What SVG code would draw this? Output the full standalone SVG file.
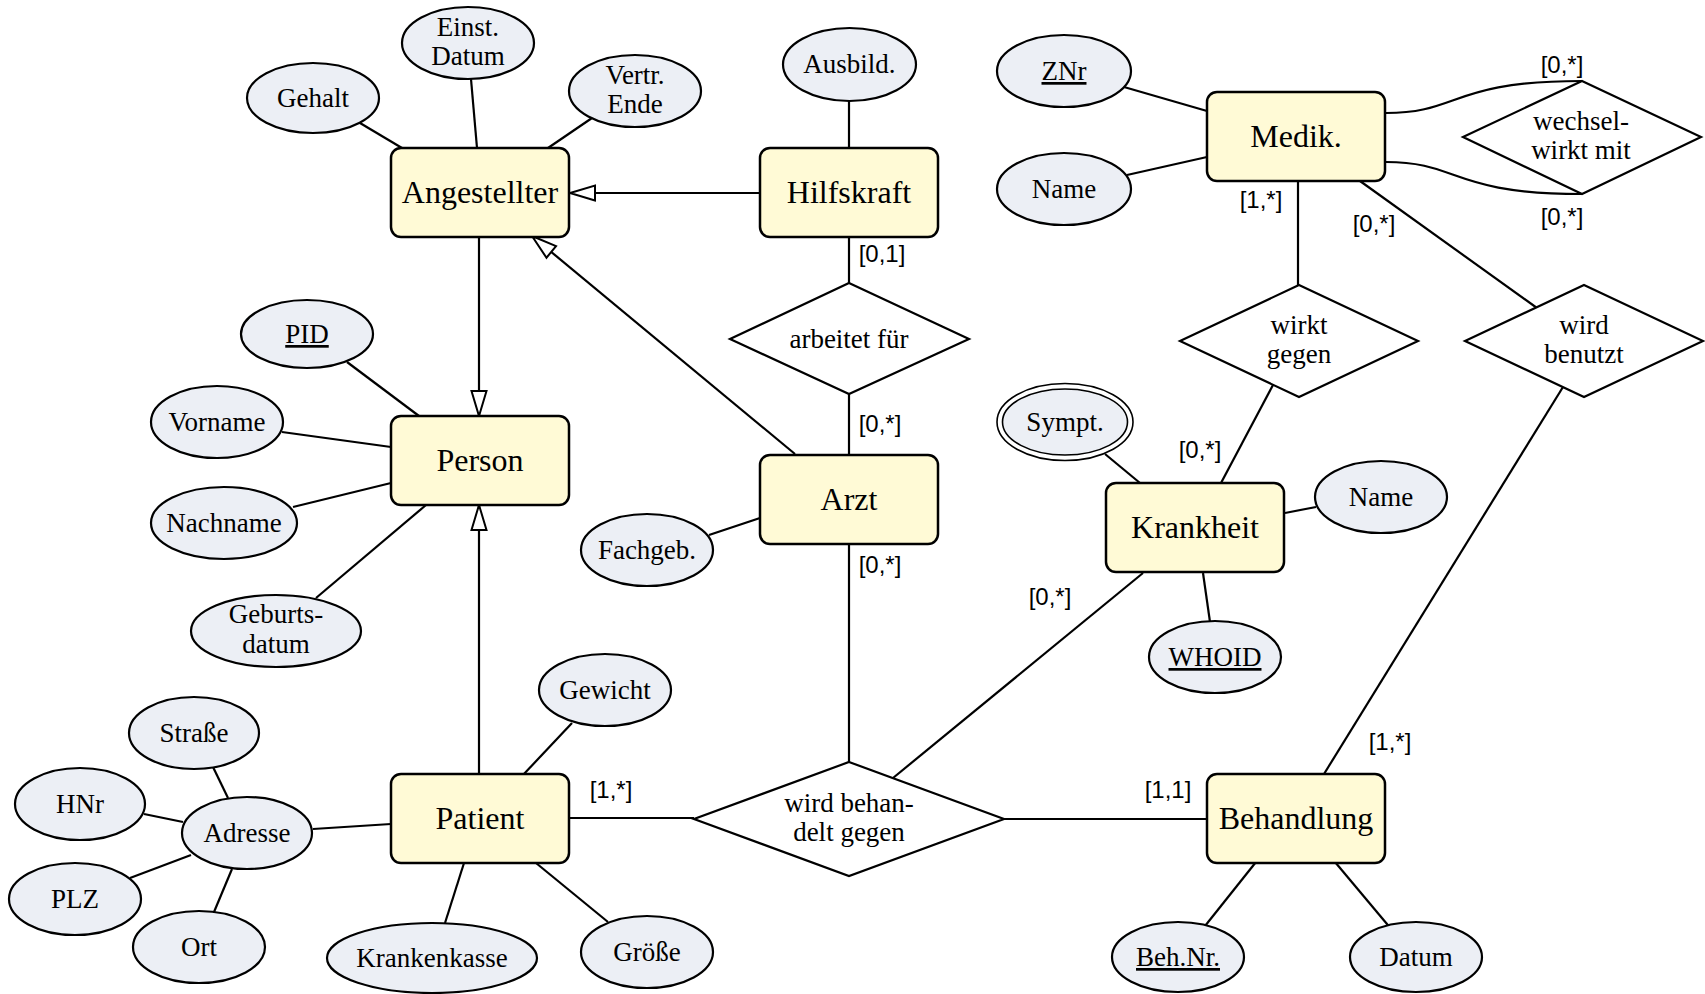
<svg xmlns="http://www.w3.org/2000/svg" width="1705" height="994" viewBox="0 0 1705 994">
<style>
.ent rect{fill:#fffad6;stroke:#000;stroke-width:2.5}
.ent text{font-family:"Liberation Serif",serif;font-size:32px;text-anchor:middle;fill:#000}
.att ellipse{fill:#eceff5;stroke:#000;stroke-width:2.2}
.att text{font-family:"Liberation Serif",serif;font-size:27px;text-anchor:middle;fill:#000}
.rel polygon{fill:#fff;stroke:#000;stroke-width:2.2}
.rel text{font-family:"Liberation Serif",serif;font-size:27px;text-anchor:middle;fill:#000}
#connectors line,#connectors path{stroke:#000;stroke-width:2.2;fill:none}
.card{font-family:"Liberation Sans",Arial,sans-serif;font-size:24px;text-anchor:middle;fill:#000}
.key{text-decoration:underline}
</style>
<defs>
<marker id="gen" markerUnits="userSpaceOnUse" viewBox="0 0 28 18" markerWidth="28" markerHeight="18" refX="27" refY="9" orient="auto">
<path d="M2,1.5 L27,9 L2,16.5 Z" fill="#fff" stroke="#000" stroke-width="2"/>
</marker>
</defs>
<rect width="1705" height="994" fill="#fff"/>
<g id="connectors">
<line x1="360" y1="123" x2="402" y2="148"/>
<line x1="471" y1="79" x2="477" y2="148"/>
<line x1="592" y1="118" x2="548" y2="148"/>
<line x1="849" y1="101" x2="849" y2="148"/>
<line x1="849" y1="237" x2="849" y2="283"/>
<line x1="849" y1="394" x2="849" y2="455"/>
<line x1="760" y1="193" x2="570" y2="193" marker-end="url(#gen)"/>
<line x1="479" y1="237" x2="479" y2="416" marker-end="url(#gen)"/>
<line x1="479" y1="774" x2="479" y2="505" marker-end="url(#gen)"/>
<line x1="795" y1="454" x2="532" y2="236" marker-end="url(#gen)"/>
<line x1="347" y1="362" x2="419" y2="416"/>
<line x1="282" y1="432" x2="391" y2="447"/>
<line x1="293" y1="507" x2="391" y2="483"/>
<line x1="316" y1="598" x2="426" y2="505"/>
<line x1="709" y1="535" x2="760" y2="518"/>
<line x1="849" y1="544" x2="849" y2="762"/>
<line x1="313" y1="829" x2="391" y2="824"/>
<line x1="523" y1="775" x2="572" y2="723"/>
<line x1="464" y1="863" x2="445" y2="923"/>
<line x1="536" y1="863" x2="608" y2="922"/>
<line x1="570" y1="818" x2="694" y2="818"/>
<line x1="213" y1="767" x2="228" y2="798"/>
<line x1="144" y1="814" x2="183" y2="822"/>
<line x1="130" y1="878" x2="191" y2="855"/>
<line x1="214" y1="912" x2="232" y2="869"/>
<line x1="1124" y1="87" x2="1207" y2="111"/>
<line x1="1127" y1="175" x2="1207" y2="157"/>
<path d="M1386,113 C1460,113 1450,81 1582,81"/>
<path d="M1386,162 C1460,162 1450,194 1582,194"/>
<line x1="1298" y1="181" x2="1298" y2="285"/>
<line x1="1360" y1="181" x2="1537" y2="308"/>
<line x1="1273" y1="385" x2="1221" y2="483"/>
<line x1="1105" y1="454" x2="1140" y2="483"/>
<line x1="1285" y1="513" x2="1316" y2="507"/>
<line x1="1203" y1="573" x2="1210" y2="622"/>
<line x1="1143" y1="573" x2="893" y2="778"/>
<line x1="1004" y1="819" x2="1207" y2="819"/>
<line x1="1563" y1="387" x2="1324" y2="774"/>
<line x1="1256" y1="862" x2="1205" y2="926"/>
<line x1="1335" y1="862" x2="1392" y2="930"/>
<text class="card" x="882" y="262">[0,1]</text>
<text class="card" x="880" y="432">[0,*]</text>
<text class="card" x="880" y="573">[0,*]</text>
<text class="card" x="611" y="798">[1,*]</text>
<text class="card" x="1168" y="798">[1,1]</text>
<text class="card" x="1050" y="605">[0,*]</text>
<text class="card" x="1200" y="458">[0,*]</text>
<text class="card" x="1390" y="750">[1,*]</text>
<text class="card" x="1261" y="208">[1,*]</text>
<text class="card" x="1374" y="232">[0,*]</text>
<text class="card" x="1562" y="73">[0,*]</text>
<text class="card" x="1562" y="225">[0,*]</text>
</g>
<g id="ent-angestellter" class="ent"><rect x="391" y="148" width="178" height="89" rx="10"/><text x="480" y="203">Angestellter</text></g>
<g id="ent-hilfskraft" class="ent"><rect x="760" y="148" width="178" height="89" rx="10"/><text x="849" y="203">Hilfskraft</text></g>
<g id="ent-person" class="ent"><rect x="391" y="416" width="178" height="89" rx="10"/><text x="480" y="471">Person</text></g>
<g id="ent-arzt" class="ent"><rect x="760" y="455" width="178" height="89" rx="10"/><text x="849" y="510">Arzt</text></g>
<g id="ent-patient" class="ent"><rect x="391" y="774" width="178" height="89" rx="10"/><text x="480" y="829">Patient</text></g>
<g id="ent-medik" class="ent"><rect x="1207" y="92" width="178" height="89" rx="10"/><text x="1296" y="147">Medik.</text></g>
<g id="ent-krankheit" class="ent"><rect x="1106" y="483" width="178" height="89" rx="10"/><text x="1195" y="538">Krankheit</text></g>
<g id="ent-behandlung" class="ent"><rect x="1207" y="774" width="178" height="89" rx="10"/><text x="1296" y="829">Behandlung</text></g>
<g id="rel-arbeitet" class="rel"><polygon points="849,283 969,339 849,394 730,339"/><text x="849" y="348">arbeitet für</text></g>
<g id="rel-wechselwirkt" class="rel"><polygon points="1582,81 1701,137 1582,194 1463,137"/><text x="1581" y="130">wechsel-</text><text x="1581" y="159">wirkt mit</text></g>
<g id="rel-wirktgegen" class="rel"><polygon points="1299,285 1418,341 1299,397 1180,341"/><text x="1299" y="334">wirkt</text><text x="1299" y="363">gegen</text></g>
<g id="rel-benutzt" class="rel"><polygon points="1584,285 1703,341 1584,397 1465,341"/><text x="1584" y="334">wird</text><text x="1584" y="363">benutzt</text></g>
<g id="rel-behandelt" class="rel"><polygon points="849,762 1004,819 849,876 694,819"/><text x="849" y="812">wird behan-</text><text x="849" y="841">delt gegen</text></g>
<g id="att-gehalt" class="att"><ellipse cx="313" cy="98" rx="66" ry="35"/><text x="313" y="107">Gehalt</text></g>
<g id="att-einst" class="att"><ellipse cx="468" cy="43" rx="66" ry="36"/><text x="468" y="36">Einst.</text><text x="468" y="65">Datum</text></g>
<g id="att-vertr" class="att"><ellipse cx="635" cy="91" rx="66" ry="36"/><text x="635" y="84">Vertr.</text><text x="635" y="113">Ende</text></g>
<g id="att-ausbild" class="att"><ellipse cx="849.5" cy="64.5" rx="66.5" ry="36.5"/><text x="849.5" y="73">Ausbild.</text></g>
<g id="att-znr" class="att"><ellipse cx="1064" cy="71" rx="67" ry="36"/><text class="key" x="1064" y="80">ZNr</text></g>
<g id="att-medikname" class="att"><ellipse cx="1064" cy="189" rx="67" ry="36"/><text x="1064" y="198">Name</text></g>
<g id="att-pid" class="att"><ellipse cx="307" cy="334" rx="66" ry="34"/><text class="key" x="307" y="343">PID</text></g>
<g id="att-vorname" class="att"><ellipse cx="217" cy="422" rx="66" ry="36"/><text x="217" y="431">Vorname</text></g>
<g id="att-nachname" class="att"><ellipse cx="224" cy="523" rx="73" ry="36"/><text x="224" y="532">Nachname</text></g>
<g id="att-geburt" class="att"><ellipse cx="276" cy="631" rx="85" ry="36"/><text x="276" y="623">Geburts-</text><text x="276" y="653">datum</text></g>
<g id="att-fachgeb" class="att"><ellipse cx="647" cy="550" rx="66" ry="36"/><text x="647" y="559">Fachgeb.</text></g>
<g id="att-sympt" class="att"><ellipse cx="1065" cy="422" rx="68" ry="38.5" style="fill:#fff;stroke-width:1.6"/><ellipse cx="1065" cy="422" rx="62.5" ry="33" style="stroke-width:1.6"/><text x="1065" y="431">Sympt.</text></g>
<g id="att-krankname" class="att"><ellipse cx="1381" cy="497" rx="66" ry="36"/><text x="1381" y="506">Name</text></g>
<g id="att-whoid" class="att"><ellipse cx="1215" cy="657" rx="66" ry="36"/><text class="key" x="1215" y="666">WHOID</text></g>
<g id="att-gewicht" class="att"><ellipse cx="605" cy="690" rx="66" ry="36"/><text x="605" y="699">Gewicht</text></g>
<g id="att-strasse" class="att"><ellipse cx="194" cy="733" rx="65" ry="36"/><text x="194" y="742">Straße</text></g>
<g id="att-hnr" class="att"><ellipse cx="80" cy="804" rx="65" ry="36"/><text x="80" y="813">HNr</text></g>
<g id="att-adresse" class="att"><ellipse cx="247" cy="833" rx="65" ry="36"/><text x="247" y="842">Adresse</text></g>
<g id="att-plz" class="att"><ellipse cx="75" cy="899" rx="66" ry="36"/><text x="75" y="908">PLZ</text></g>
<g id="att-ort" class="att"><ellipse cx="199" cy="947" rx="66" ry="36"/><text x="199" y="956">Ort</text></g>
<g id="att-kasse" class="att"><ellipse cx="432" cy="958" rx="105" ry="35"/><text x="432" y="967">Krankenkasse</text></g>
<g id="att-groesse" class="att"><ellipse cx="647" cy="952" rx="66" ry="36"/><text x="647" y="961">Größe</text></g>
<g id="att-behnr" class="att"><ellipse cx="1178" cy="957" rx="66" ry="35"/><text class="key" x="1178" y="966">Beh.Nr.</text></g>
<g id="att-datum" class="att"><ellipse cx="1416" cy="957" rx="66" ry="35"/><text x="1416" y="966">Datum</text></g>
</svg>
